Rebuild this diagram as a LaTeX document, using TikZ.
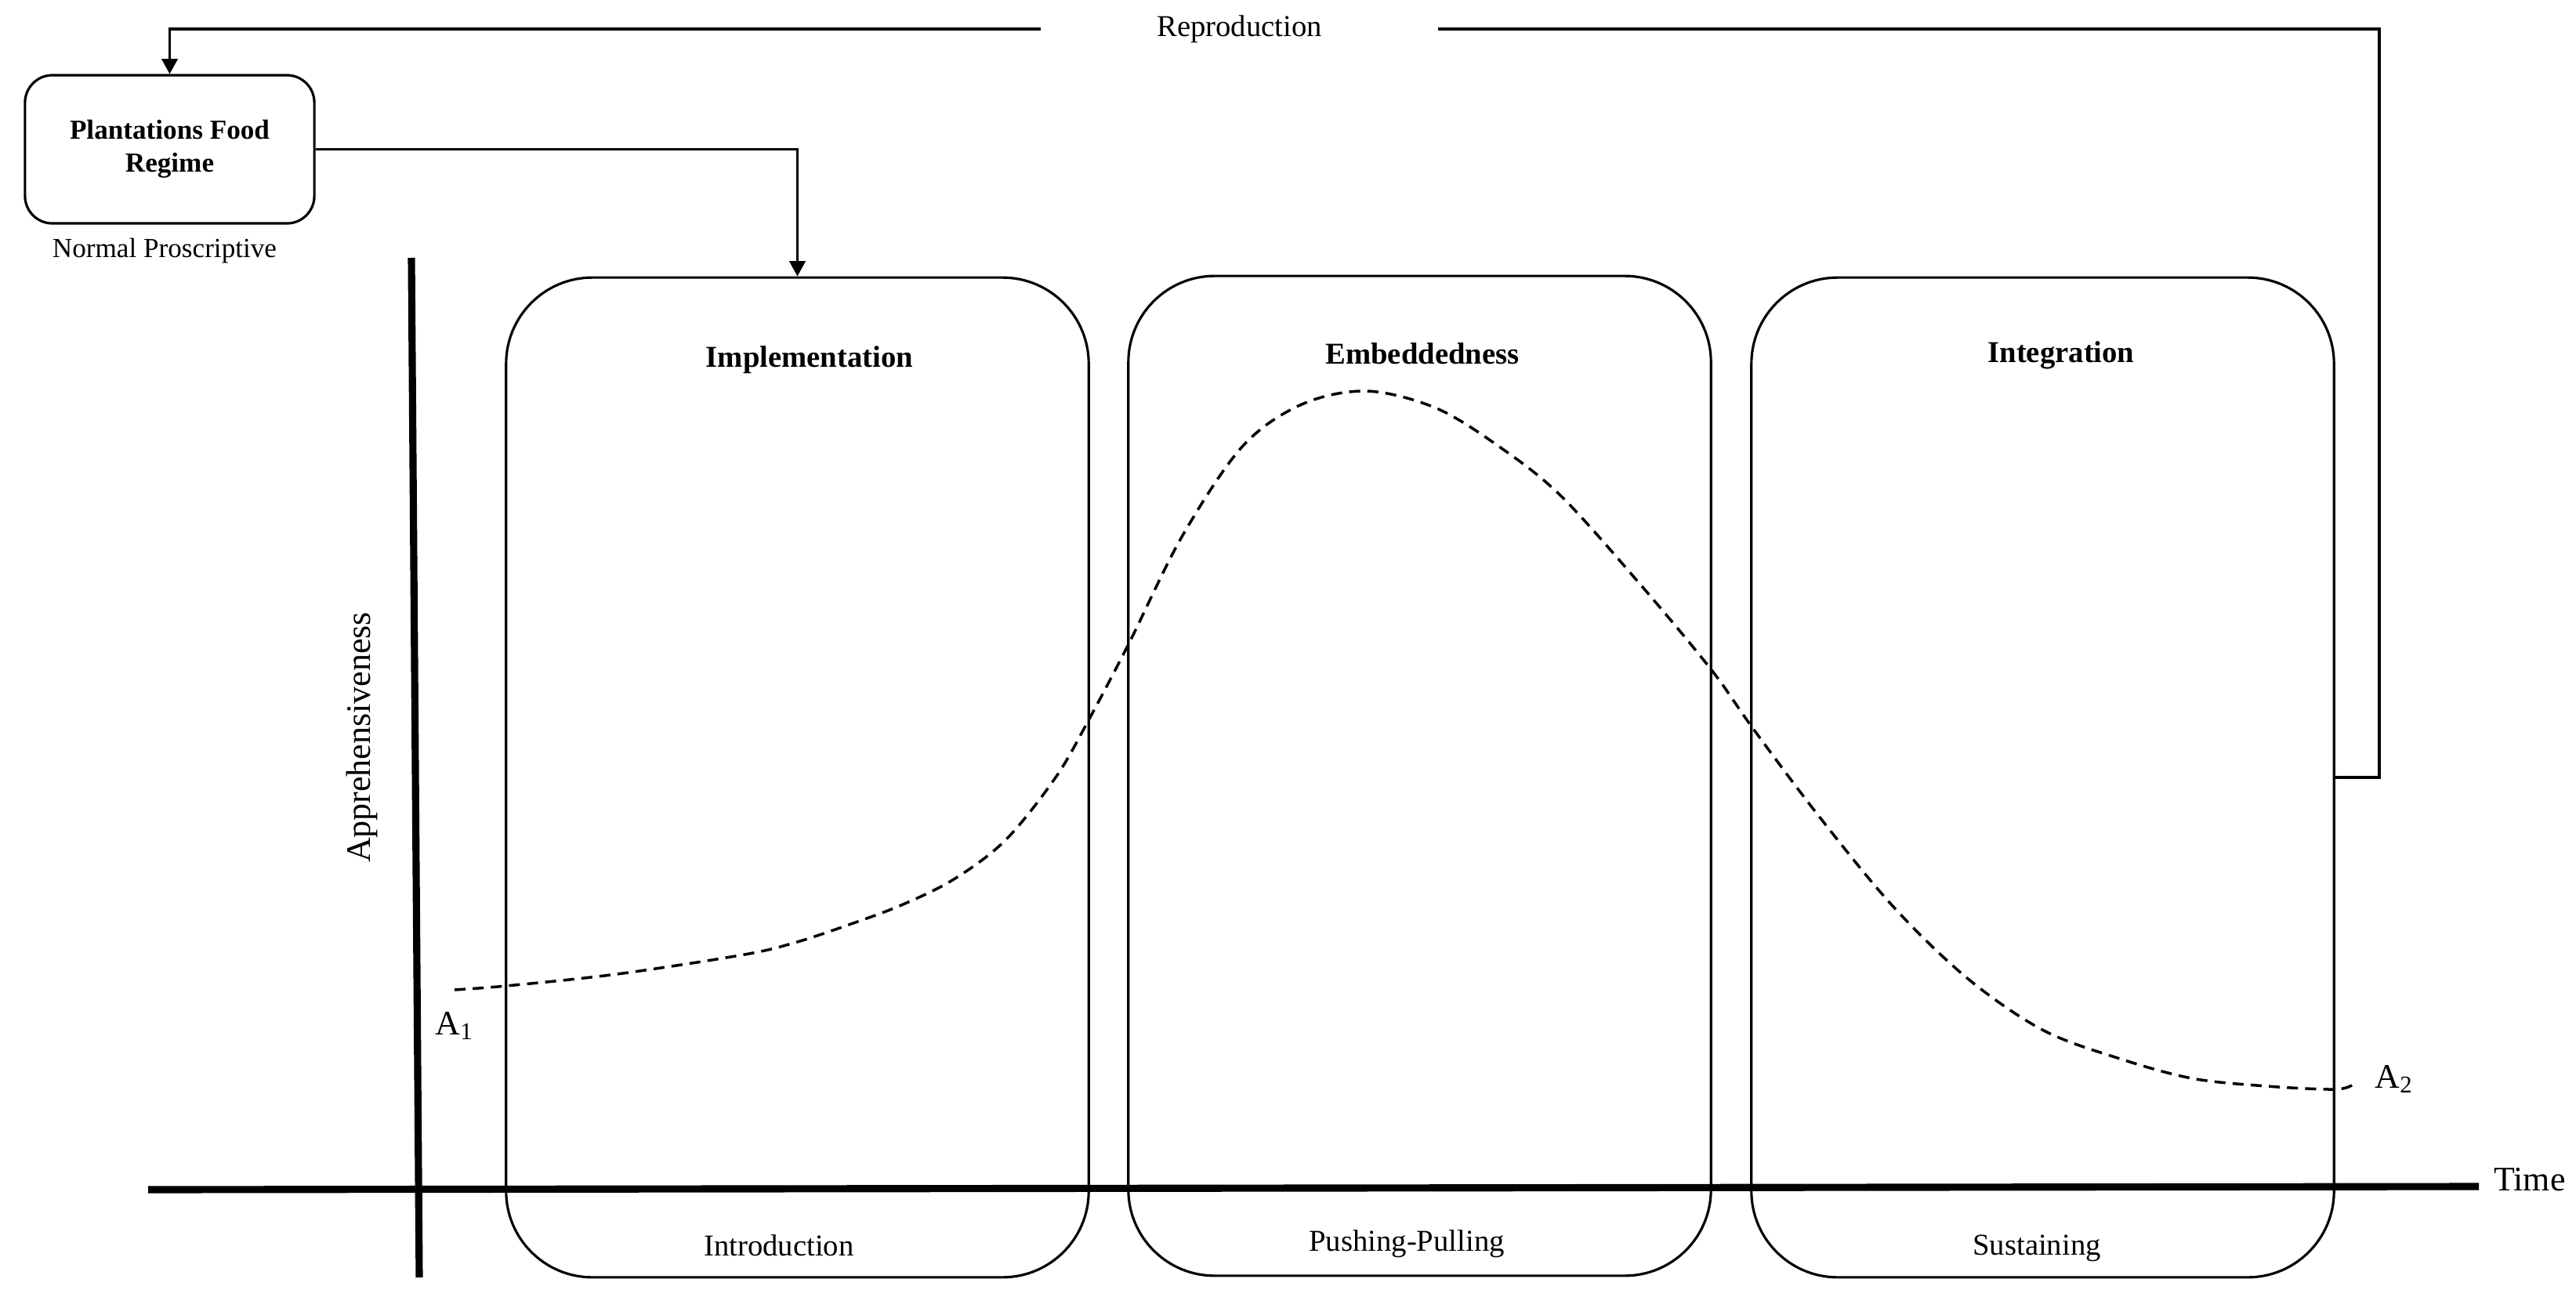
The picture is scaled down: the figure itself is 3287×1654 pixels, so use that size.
\documentclass[tikz,border=0pt]{standalone}
\usepackage{fontspec}
\setmainfont{Liberation Serif}
\usetikzlibrary{arrows.meta}
\begin{document}
\begin{tikzpicture}[x=0.01cm,y=-0.01cm,
  phase/.style={draw, line width=0.9pt, rounded corners=1.1cm, minimum width=7.43cm, minimum height=12.75cm, inner sep=0pt},
  regime/.style={draw, line width=0.9pt, rounded corners=0.35cm, minimum width=3.69cm, minimum height=1.89cm, align=center, font=\fontsize{10}{12}\selectfont\bfseries},
  title/.style={font=\fontsize{11}{13}\selectfont\bfseries, inner sep=0pt},
  sublabel/.style={font=\fontsize{11}{13}\selectfont, inner sep=0pt},
  small/.style={font=\fontsize{10}{12}\selectfont, inner sep=0pt},
  axislabel/.style={font=\fontsize{12.5}{15}\selectfont, inner sep=0pt},
  conn/.style={line width=0.9pt},
  arrowed/.style={-{Triangle[length=5.5pt,width=5.8pt]}},
  axisline/.style={line width=2.6pt},
  curve/.style={line width=1pt, dash pattern=on 4pt off 2.6pt}]
\useasboundingbox (0,0) rectangle (3287,1654);

% phase boxes
\node[phase] (impl) at (1017.5,992) {};
\node[phase] (embed) at (1811.5,990) {};
\node[phase] (integ) at (2606.5,992) {};

\node[title] (timpl) at (1033,459) {Implementation};
\node[title] (tembed) at (1815,451) {Embeddedness};
\node[title] (tinteg) at (2630,453) {Integration};

\node[sublabel] (bintro) at (994,1589) {Introduction};
\node[sublabel] (bpush) at (1795,1587) {Pushing-Pulling};
\node[sublabel] (bsust) at (2599,1593) {Sustaining};

% regime box
\node[regime] (pfr) at (216.5,190.5) {Plantations Food\\Regime};
\node[small] (norm) at (210,320) {Normal Proscriptive};

% connectors
\draw[conn, arrowed] (pfr.east) -| (impl.north);
\node[sublabel, minimum width=5.05cm] (repro) at (1581.5,37) {Reproduction};
\coordinate (rturn) at (3036,37);
\draw[conn] (integ.east) -| (rturn) -- (repro.east);
\draw[conn, arrowed] (repro.west) -| (pfr.north);

% axes
\draw[axisline] (525,329) -- (535,1630);
\draw[axisline] (189,1518) -- (3163,1514);
\node[axislabel] (time) at (3228,1505) {Time};
\node[axislabel, rotate=90] (appr) at (462,941) {Apprehensiveness};

% curve
\draw[curve] plot[smooth, tension=0.55] coordinates {(580,1263) (646,1258) (787,1243) (950,1218) (1017,1202) (1083,1180) (1150,1155) (1217,1122) (1283,1072) (1347,992) (1389,919) (1441,820) (1508,685) (1585,570) (1661,516) (1744,499) (1833,521) (1916,572) (1993,634) (2095,748) (2184,855) (2235,927) (2319,1039) (2415,1156) (2510,1248) (2606,1314) (2702,1350) (2797,1376) (2893,1386) (2979,1390) (3002,1384)};

\node[axislabel, anchor=base west] (a1) at (555,1320) {A\textsubscript{1}};
\node[axislabel, anchor=base west] (a2) at (3030,1388) {A\textsubscript{2}};
\end{tikzpicture}
\end{document}
